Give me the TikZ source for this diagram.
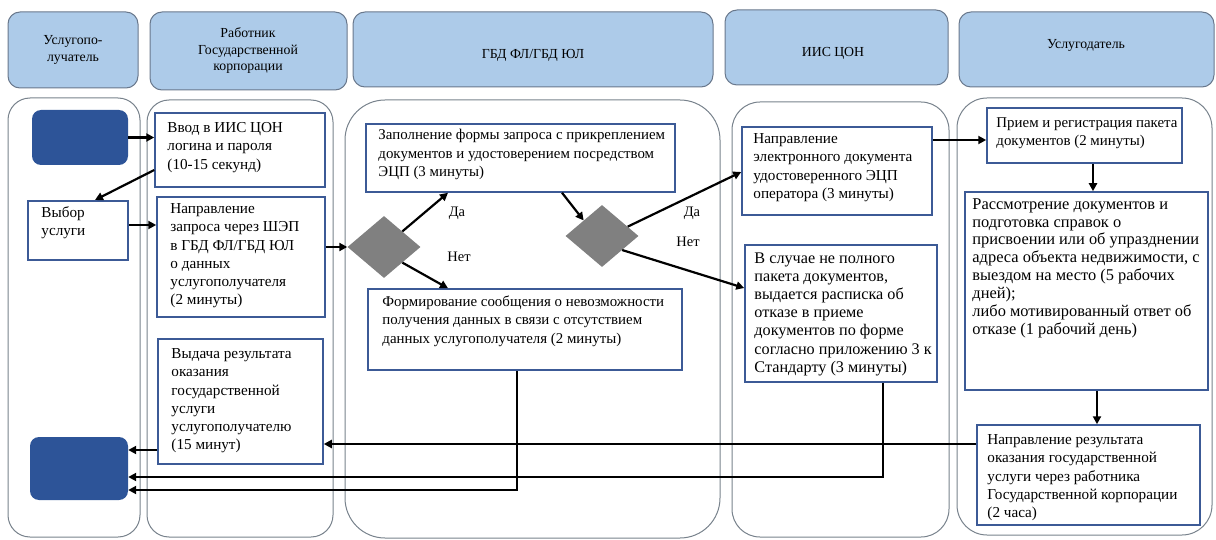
\documentclass[tikz,border=0pt]{standalone}
\usepackage{fontspec}
\setmainfont{Liberation Serif}
\usetikzlibrary{arrows.meta,shapes.geometric,calc,fit}
\definecolor{hdrfill}{RGB}{173,203,233}
\definecolor{hdrline}{RGB}{105,120,140}
\definecolor{laneline}{RGB}{120,130,140}
\definecolor{boxline}{RGB}{60,90,150}
\definecolor{darkbox}{RGB}{45,84,152}
\definecolor{diamondgray}{RGB}{128,128,128}
\newcommand\bxfont{\fontsize{15.2}{18.3}\selectfont}
\newcommand\bxfonta{\fontsize{14.9}{18.6}\selectfont}
\newcommand\bxfontb{\fontsize{16.2}{18.2}\selectfont}
\newcommand\bxfontc{\fontsize{16.4}{17.9}\selectfont}
\newcommand\hdfont{\fontsize{13.8}{16.5}\selectfont}
\newcommand\lbfont{\fontsize{14.5}{16}\selectfont}
\begin{document}
\begin{tikzpicture}[x=1pt,y=-1pt,
  lane/.style={draw=laneline,line width=1pt},
  hdr/.style={draw=hdrline,fill=hdrfill,line width=1pt,rounded corners=12pt,inner sep=0pt},
  hdrtxt/.style={align=center,font=\hdfont,inner sep=0pt},
  box/.style={draw=boxline,line width=1.5pt,fill=white,inner sep=0pt},
  dbox/.style={fill=darkbox,rounded corners=9pt,inner sep=0pt},
  txt/.style={anchor=north west,align=left,font=\bxfont,inner sep=0pt},
  dec/.style={diamond,fill=diamondgray,inner sep=0pt,minimum width=73pt,minimum height=62pt},
  lbl/.style={font=\lbfont,inner sep=0pt},
  arr/.style={line width=2.2pt,-{Triangle[length=8pt,width=8pt]}}]
\useasboundingbox (0,0) rectangle (1216,540);

% lanes
\draw[lane,rounded corners=22pt] (8,98) rectangle (140,537);
\draw[lane,rounded corners=22pt] (147,100) rectangle (333,537);
\draw[lane,rounded corners=40pt] (345,100) rectangle (720,538);
\draw[lane,rounded corners=28pt] (732,102) rectangle (949,537);
\draw[lane,rounded corners=30pt] (957,98) rectangle (1212,535);

% headers
\node[hdr,fit={(8,12) (138,88)}] (h1) {};
\node[hdr,fit={(150,12) (347,90)}] (h2) {};
\node[hdr,fit={(353,12) (713,87)}] (h3) {};
\node[hdr,fit={(725,10) (948,85)}] (h4) {};
\node[hdr,fit={(959,12) (1214,87)}] (h5) {};
\node[hdrtxt] (h1t) at (73,50) {Услугопо-\\лучатель};
\node[hdrtxt] (h2t) at (248,51) {Работник\\Государственной\\корпорации};
\node[hdrtxt] (h3t) at (533,55) {ГБД ФЛ/ГБД ЮЛ};
\node[hdrtxt] (h4t) at (833,53) {ИИС ЦОН};
\node[hdrtxt] (h5t) at (1086,45) {Услугодатель};

% dark boxes
\node[dbox,fit={(32,110) (128,165)}] (dark1) {};
\node[dbox,fit={(30,437) (128,500)}] (dark2) {};

% process boxes
\node[box,fit={(155,113) (325,187)}] (vvod) {};
\node[txt] (vvodt) at ([shift={(13,10)}]vvod.north west) {Ввод в ИИС ЦОН\\логина и пароля\\(10-15 секунд)};
\node[box,fit={(28,201) (128,260)}] (vybor) {};
\node[txt] (vybort) at ([shift={(14,6)}]vybor.north west) {Выбор\\услуги};
\node[box,fit={(157,197) (325,317)}] (naprav) {};
\node[txt] (napravt) at ([shift={(14,7)}]naprav.north west) {Направление\\запроса через ШЭП\\в ГБД ФЛ/ГБД ЮЛ\\о данных\\услугополучателя\\(2 минуты)};
\node[box,fit={(158,339) (323,464)}] (vydacha) {};
\node[txt] (vydachat) at ([shift={(14,10)}]vydacha.north west) {Выдача результата\\оказания\\государственной\\услуги\\услугополучателю\\(15 минут)};
\node[box,fit={(366,124) (675,192)}] (zapoln) {};
\node[txt,font=\bxfonta] (zapolnt) at ([shift={(13,6)}]zapoln.north west) {Заполнение формы запроса с прикреплением\\документов и удостоверением посредством\\ЭЦП (3 минуты)};
\node[box,fit={(368,289) (682,370)}] (formir) {};
\node[txt,font=\bxfonta] (formirt) at ([shift={(15,7)}]formir.north west) {Формирование сообщения о невозможности\\получения данных в связи с отсутствием\\данных услугополучателя (2 минуты)};
\node[box,fit={(742,127) (932,215)}] (iis1) {};
\node[txt] (iis1t) at ([shift={(12,7)}]iis1.north west) {Направление\\электронного документа\\удостоверенного ЭЦП\\оператора (3 минуты)};
\node[box,fit={(745,245) (937,382)}] (iis2) {};
\node[txt,font=\bxfontb] (iis2t) at ([shift={(10,8)}]iis2.north west) {В случае не полного\\пакета документов,\\выдается расписка об\\отказе в приеме\\документов по форме\\согласно приложению 3 к\\Стандарту (3 минуты)};
\node[box,fit={(987,108) (1182,163)}] (priem) {};
\node[txt,font=\bxfonta] (priemt) at ([shift={(10,10)}]priem.north west) {Прием и регистрация пакета\\документов (2 минуты)};
\node[box,fit={(965,192) (1208,390)}] (rassm) {};
\node[txt,font=\bxfontc] (rassmt) at ([shift={(8,7)}]rassm.north west) {Рассмотрение документов и\\подготовка справок о\\присвоении или об упразднении\\адреса объекта недвижимости, с\\выездом на место (5 рабочих\\дней);\\либо мотивированный ответ об\\отказе (1 рабочий день)};
\node[box,fit={(977,425) (1200,525)}] (napres) {};
\node[txt] (naprest) at ([shift={(11,10)}]napres.north west) {Направление результата\\оказания государственной\\услуги через работника\\Государственной корпорации\\(2 часа)};

% decisions
\node[dec] (d1) at (384,247) {};
\node[dec] (d2) at (602,236) {};
\node[lbl] (da1) at (457,213) {Да};
\node[lbl] (net1) at (459,257) {Нет};
\node[lbl] (da2) at (692,213) {Да};
\node[lbl] (net2) at (688,242) {Нет};

% connectors
\draw[arr] (dark1.east) -- (vvod.west |- dark1.east);
\draw[arr] (vvod.west |- 0,170) -- (95,200);
\draw[arr] (vybor.east |- 0,225) -- (naprav.west |- 0,225);
\draw[arr] (naprav.east |- d1.west) -- (d1.west);
\draw[arr] (d1.north east) -- (zapoln.south -| 448,0);
\draw[arr] (d1.south east) -- (formir.north -| 448,0);
\draw[arr] (zapoln.south -| 562,0) -- (d2.north west);
\draw[arr] ($(d2.north)!0.7!(d2.east)$) -- (iis1.west |- 0,172);
\draw[arr] ($(d2.east)!0.45!(d2.south)$) -- (iis2.west |- 0,288);
\draw[arr] (iis1.east |- 0,140) -- (priem.west |- 0,140);
\draw[arr] (priem.south -| 1093,0) -- (rassm.north -| 1093,0);
\draw[arr] (rassm.south -| 1097,0) -- (napres.north -| 1097,0);
\draw[arr] (napres.west |- 0,444) -- (vydacha.east |- 0,444);
\draw[arr] (vydacha.west |- 0,450) -- (dark2.east |- 0,450);
\draw[arr] (iis2.south -| 883,0) |- (dark2.east |- 0,477);
\draw[arr] (formir.south -| 517,0) |- (dark2.east |- 0,490);
\end{tikzpicture}
\end{document}
